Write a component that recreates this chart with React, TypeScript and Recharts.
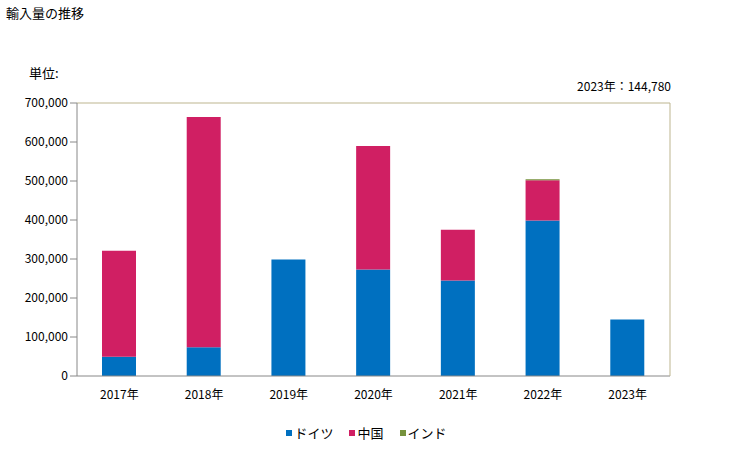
import React from 'react';
import { BarChart, Bar, XAxis, YAxis } from 'recharts';

const years = ['2017年', '2018年', '2019年', '2020年', '2021年', '2022年', '2023年'];
const germany = [49600, 73800, 299000, 273000, 245000, 398500, 144780];
const china = [271800, 590200, 0, 316500, 130000, 103500, 0];
const india = [0, 0, 0, 0, 0, 2500, 0];
const yTicks = [0, 100000, 200000, 300000, 400000, 500000, 600000, 700000];

const series = [
  { key: 'germany', name: 'ドイツ', color: '#0070c0' },
  { key: 'china', name: '中国', color: '#d01f63' },
  { key: 'india', name: 'インド', color: '#76923c' },
];

const data = years.map((year, i) => ({
  year,
  germany: germany[i],
  china: china[i],
  india: india[i],
}));

const font = '"Noto Sans CJK JP", "Noto Sans", sans-serif';
const fmt = (v: number) => v.toLocaleString('en-US');

export default function App() {
  return (
    <div style={{ position: 'absolute', left: 0, top: 0, width: 729, height: 450, background: '#fff', fontFamily: font, color: '#000' }}>
      <div style={{ position: 'absolute', left: 6, top: 3, fontSize: 13 }}>輸入量の推移</div>
      <div style={{ position: 'absolute', left: 29, top: 63, fontSize: 13 }}>単位:</div>
      <div style={{ position: 'absolute', right: 58, top: 77, fontSize: 12 }}>2023年：144,780</div>
      <BarChart width={729} height={450} data={data} margin={{ top: 102, right: 58, bottom: 44, left: 7 }}>
        <XAxis
          dataKey="year"
          stroke="#888"
          tickLine={false}
          tick={{ fill: '#000', fontSize: 12, fontFamily: font }}
          tickMargin={8}
          height={30}
        />
        <XAxis xAxisId="top" orientation="top" dataKey="year" stroke="#bdb58f" tick={false} tickLine={false} height={1} />
        <YAxis
          domain={[0, 700000]}
          ticks={yTicks}
          stroke="#888"
          tickLine={{ stroke: '#888' }}
          tickSize={7}
          tickFormatter={fmt}
          tick={{ fill: '#000', fontSize: 12, fontFamily: font }}
          width={70}
          interval={0}
        />
        <YAxis yAxisId="right" orientation="right" domain={[0, 700000]} stroke="#bdb58f" tick={false} tickLine={false} width={1} />
        {series.map((s) => (
          <Bar key={s.key} dataKey={s.key} name={s.name} stackId="a" fill={s.color} barSize={34} isAnimationActive={false} />
        ))}
      </BarChart>
      <div style={{ position: 'absolute', left: 2, width: 729, top: 423, display: 'flex', justifyContent: 'center', fontSize: 13 }}>
        {series.map((s, i) => (
          <div key={s.key} style={{ display: 'flex', alignItems: 'center', marginLeft: i === 0 ? 0 : 16 }}>
            <span style={{ display: 'inline-block', width: 6, height: 6, background: s.color, marginRight: 2 }} />
            <span>{s.name}</span>
          </div>
        ))}
      </div>
    </div>
  );
}
